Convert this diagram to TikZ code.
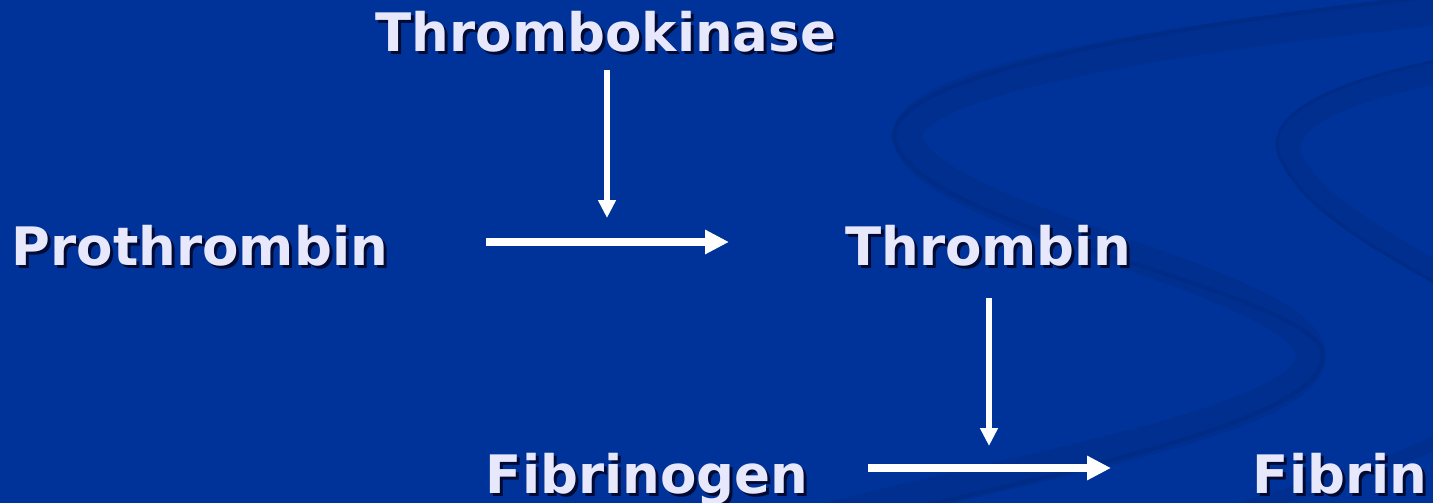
\documentclass[tikz,border=0pt]{standalone}
\usepackage{fontspec}
\setmainfont{DejaVu Sans}
\usetikzlibrary{arrows.meta}
\definecolor{bg}{RGB}{0,51,153}
\definecolor{band}{RGB}{0,47,143}
\definecolor{bandedge}{RGB}{0,44,135}
\definecolor{txt}{RGB}{232,232,252}
\definecolor{shad}{RGB}{0,10,50}
\newcommand{\shtext}[1]{\makebox[0pt][l]{\hspace{3pt}\raisebox{-3pt}{\color{shad}#1}}#1}
\tikzset{
  lbl/.style={anchor=base, inner sep=0pt, text=txt, font=\fontsize{53}{60}\selectfont\bfseries},
  harrow/.style={draw=white, line width=7.5pt, -{Triangle[length=24pt,width=23pt]}},
  varrow/.style={draw=white, line width=5.5pt, -{Triangle[length=18pt,width=17pt]}},
  swoosh/.style={draw=band, line cap=round},
  swooshedge/.style={draw=bandedge, line cap=round}
}
\begin{document}
\begin{tikzpicture}[x=1pt,y=-1pt]
\fill[bg] (0,0) rectangle (1433,503);
\useasboundingbox (0,0) rectangle (1433,503);
% decorative background bands
\draw[swoosh, line width=30pt] (1440,10) .. controls (1150,40) and (880,85) .. (910,145)
  .. controls (940,220) and (1290,280) .. (1310,350)
  .. controls (1330,420) and (1000,470) .. (820,520);
\draw[swooshedge, line width=4pt] (1440,-4) .. controls (1150,26) and (866,80) .. (896,145)
  .. controls (930,230) and (1300,290) .. (1322,350)
  .. controls (1340,425) and (1010,480) .. (830,530);
\draw[swoosh, line width=22pt] (1440,72) .. controls (1330,95) and (1270,125) .. (1295,165)
  .. controls (1320,210) and (1400,250) .. (1440,275);
\draw[swooshedge, line width=3pt] (1440,60) .. controls (1320,85) and (1255,120) .. (1284,165)
  .. controls (1310,215) and (1395,260) .. (1440,285);
\draw[swoosh, line width=14pt] (1440,440) .. controls (1380,470) and (1300,490) .. (1240,510);
% labels
\node[lbl] (thk) at (606,52) {\shtext{Thrombokinase}};
\node[lbl] (pro) at (200,265) {\shtext{Prothrombin}};
\node[lbl] (thr) at (988,265) {\shtext{Thrombin}};
\node[lbl] (fbg) at (647,493) {\shtext{Fibrinogen}};
\node[lbl] (fib) at (1340,493) {\shtext{Fibrin}};
% connector endpoints
\coordinate (h1s) at (486,242);
\coordinate (h1e) at (729,242);
\coordinate (v1s) at (607,70);
\coordinate (v1e) at (607,218);
\coordinate (h2s) at (868,468);
\coordinate (h2e) at (1111,468);
\coordinate (v2s) at (989,298);
\coordinate (v2e) at (989,446);
\draw[harrow] (h1s) -- (h1e);
\draw[varrow] (v1s) -- (v1e);
\draw[harrow] (h2s) -- (h2e);
\draw[varrow] (v2s) -- (v2e);
\end{tikzpicture}
\end{document}
